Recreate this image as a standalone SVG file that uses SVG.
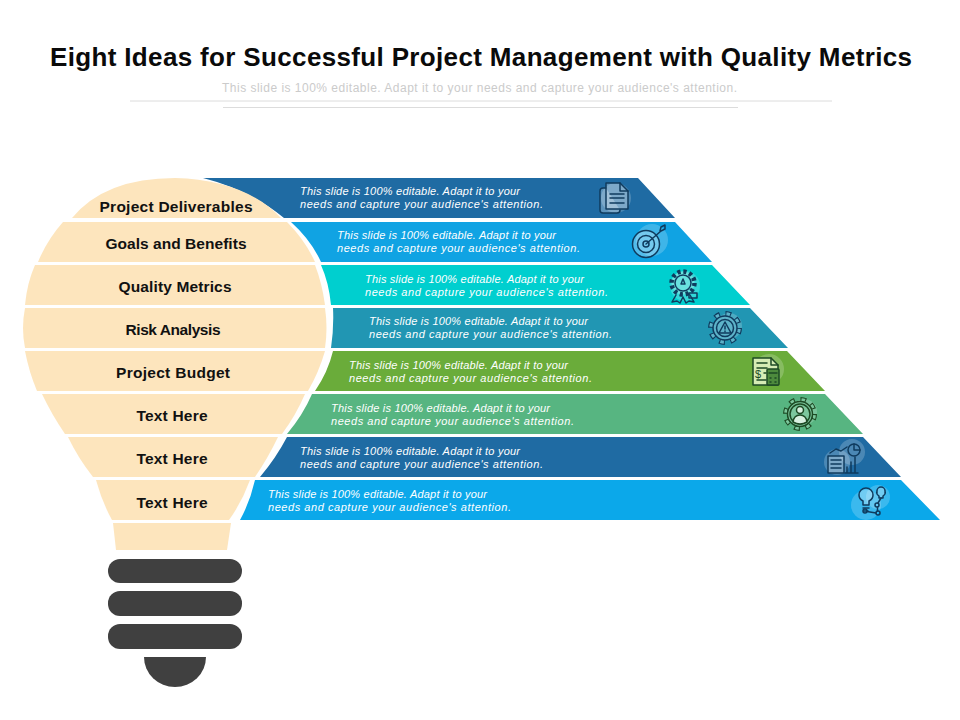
<svg xmlns="http://www.w3.org/2000/svg" width="960" height="720" viewBox="0 0 960 720">
<style>
.title{font:bold 26px "Liberation Sans",Arial,sans-serif;fill:#0a0a0a}
.sub{font:12px "Liberation Sans",Arial,sans-serif;fill:#cbcbcb}
.lb{font:bold 15.500px "Liberation Sans",Arial,sans-serif;fill:#111;text-anchor:middle}
.d{font:italic 11px "Liberation Sans",Arial,sans-serif;fill:#fff}
.bulb{fill:#fde5bd}
.base{fill:#404040}
.halo{fill:#fff;fill-opacity:.2}
.i{fill:none;stroke:#0f3b5e;stroke-width:1.500;stroke-linejoin:round;stroke-linecap:round}
.g{stroke:#1d4a24}
.f{fill:#fff;fill-opacity:.28}
.l{fill:#d5ecb4}
</style>
<rect width="960" height="720" fill="#fff"/>
<text class="title" x="50" y="66" textLength="862" lengthAdjust="spacing">Eight Ideas for Successful Project Management with Quality Metrics</text>
<text class="sub" x="222" y="92" textLength="515" lengthAdjust="spacing">This slide is 100% editable. Adapt it to your needs and capture your audience's attention.</text>
<path d="M130 101H832M223 107.500H738" stroke="#dcdcdc" stroke-width="1" fill="none"/>

<g id="node-1">
<path fill="#1f6ba3" d="M203 178H638L675 218H284Q250 190 203 178Z"/>
<path class="bulb" d="M72 218Q105 178 175 178Q245 180 281 218Z"/>
<text class="lb" x="176" y="212" textLength="153">Project Deliverables</text>
<text class="d" x="300" y="195" textLength="220">This slide is 100% editable. Adapt it to your</text>
<text class="d" x="300" y="208" textLength="243">needs and capture your audience's attention.</text>
<circle class="halo" cx="616" cy="198" r="15"/>
<path class="i f" d="M606 188H603Q600 188 600 191V210Q600 213 603 213H617Q620 213 620 210"/><path class="i f" d="M606 183H620L628 191V209H606Z"/><path class="i" d="M620 183V191H628M610 194H624M610 198H624M610 203H624"/>
</g>
<g id="node-2">
<path fill="#10a3e3" d="M291 222H675L712 262H321Q311 240 291 222Z"/>
<path class="bulb" d="M63 222H287Q305 240 315 262H38Q47 240 63 222Z"/>
<text class="lb" x="176" y="249" textLength="141">Goals and Benefits</text>
<text class="d" x="337" y="239" textLength="219">This slide is 100% editable. Adapt it to your</text>
<text class="d" x="337" y="252" textLength="243">needs and capture your audience's attention.</text>
<circle class="halo" cx="652" cy="240" r="16"/>
<circle class="i f" cx="646" cy="244" r="13.500"/><circle class="i" cx="646" cy="244" r="8.500"/><circle class="i" cx="646" cy="244" r="3"/><path class="i" d="M646 244L661 231M660 231L661 227L665 225L665 229L661 231"/>
</g>
<g id="node-3">
<path fill="#00cfcf" d="M321 265H712L750 305H331Q329 283 321 265Z"/>
<path class="bulb" d="M35 265H315Q322 283 325 305H25Q27 283 35 265Z"/>
<text class="lb" x="175" y="292" textLength="113">Quality Metrics</text>
<text class="d" x="365" y="283" textLength="219">This slide is 100% editable. Adapt it to your</text>
<text class="d" x="365" y="296" textLength="243">needs and capture your audience's attention.</text>
<circle class="halo" cx="685" cy="286" r="15"/>
<circle cx="683" cy="283" r="11.500" fill="#9fe9e6" fill-opacity=".5" stroke="#0f3b5e" stroke-width="4.500" stroke-dasharray="3.200 2.820"/>
<circle class="i" cx="683" cy="283" r="8"/><path class="i" d="M683 279L685 284L681 284ZM676 295L672 302L677 301L680 303L683 297L686 303L689 301L694 302L690 295"/><path class="i" d="M689 293H697V298H689Z"/>
</g>
<g id="node-4">
<path fill="#2196b3" d="M333 308H750L788 348H331Q334 328 333 308Z"/>
<path class="bulb" d="M25 308H325Q328 328 325 348H25Q21 328 25 308Z"/>
<text class="lb" x="173" y="335" textLength="95">Risk Analysis</text>
<text class="d" x="369" y="325" textLength="219">This slide is 100% editable. Adapt it to your</text>
<text class="d" x="369" y="338" textLength="243">needs and capture your audience's attention.</text>
<circle class="halo" cx="729" cy="326" r="13"/>
<circle cx="725" cy="328" r="14" fill="none" stroke="#0f3b5e" stroke-width="6" stroke-dasharray="5.500 5.500"/>
<circle cx="725" cy="328" r="14" fill="none" stroke="#5db3c9" stroke-width="3.500" stroke-dasharray="3.500 7.500" stroke-dashoffset="-1"/>
<circle cx="725" cy="328" r="12" fill="#5db3c9" stroke="#0f3b5e" stroke-width="1.500"/>
<circle class="i" cx="725" cy="328" r="8.500"/><path class="i" d="M725 322L731 333H719ZM725 326V329M725 331V331.500"/>
</g>
<g id="node-5">
<path fill="#6aac3a" d="M333 351H787L825 391H315Q328 372 333 351Z"/>
<path class="bulb" d="M25 351H325Q319 372 308 391H37Q29 372 25 351Z"/>
<text class="lb" x="173" y="378" textLength="114">Project Budget</text>
<text class="d" x="349" y="369" textLength="219">This slide is 100% editable. Adapt it to your</text>
<text class="d" x="349" y="382" textLength="243">needs and capture your audience's attention.</text>
<circle class="halo" cx="769" cy="369" r="15"/>
<path class="i g l" d="M753 358H771L778 365V385H753Z"/><path class="i g" d="M771 358V365H778M757 363H767M757 368H767M764 373H766M757 380H766"/><text x="755" y="378" font-family="Liberation Sans,sans-serif" font-size="11" fill="#1d4a24">$</text>
<rect class="i g" x="767" y="369" width="12" height="16" rx="1" style="fill:#4d8a3d"/><path class="i g" d="M769 373H777M770 378H771M775 378H776M770 382H771M775 382H776"/>
</g>
<g id="node-6">
<path fill="#57b581" d="M312 394H825L863 434H287Q303 415 312 394Z"/>
<path class="bulb" d="M42 394H305Q296 415 282 434H65Q52 415 42 394Z"/>
<text class="lb" x="172" y="421" textLength="71">Text Here</text>
<text class="d" x="331" y="412" textLength="219">This slide is 100% editable. Adapt it to your</text>
<text class="d" x="331" y="425" textLength="243">needs and capture your audience's attention.</text>
<circle class="halo" cx="804" cy="412" r="13"/>
<circle cx="800" cy="414" r="14.500" fill="none" stroke="#1d4a24" stroke-width="5" stroke-dasharray="5.700 5.690"/>
<circle cx="800" cy="414" r="14.500" fill="none" stroke="#7cc79d" stroke-width="2.800" stroke-dasharray="3.500 7.890" stroke-dashoffset="-1.100"/>
<circle cx="800" cy="414" r="12.500" fill="#7cc79d" stroke="#1d4a24" stroke-width="1.500"/>
<circle class="i g" cx="800" cy="414" r="10"/><circle class="i g" cx="800" cy="410" r="3.500" style="fill:#d9f0e0"/><path class="i g" d="M793 422Q794 415 800 415Q806 415 807 422Q800 426 793 422Z" style="fill:#d9f0e0"/>
</g>
<g id="node-7">
<path fill="#1f6ba3" d="M287 437H863L901 477H260Q276 458 287 437Z"/>
<path class="bulb" d="M68 437H278Q268 458 255 477H93Q78 458 68 437Z"/>
<text class="lb" x="172" y="464" textLength="71">Text Here</text>
<text class="d" x="300" y="455" textLength="220">This slide is 100% editable. Adapt it to your</text>
<text class="d" x="300" y="468" textLength="243">needs and capture your audience's attention.</text>
<circle class="halo" cx="837" cy="462" r="13"/><circle class="halo" cx="852" cy="452" r="13"/>
<path class="i f" d="M828 456H844V473H828Z"/><path class="i" d="M831 460H841M831 464H841M831 468H841M845 473H858M847 473V467M851 473V462M855 473V457M830 453L836 449L841 451L847 447"/><circle class="i" cx="854" cy="450" r="6"/><path class="i" d="M854 450V444M854 450H860"/>
</g>
<g id="node-8">
<path fill="#0ba8ea" d="M255 480H901L940 520H240Q250 502 255 480Z"/>
<path class="bulb" d="M96 480H250Q242 502 229 520H112Q102 502 96 480Z"/>
<text class="lb" x="172" y="508" textLength="71">Text Here</text>
<text class="d" x="268" y="498" textLength="219">This slide is 100% editable. Adapt it to your</text>
<text class="d" x="268" y="511" textLength="243">needs and capture your audience's attention.</text>
<circle class="halo" cx="866" cy="505" r="15"/><circle class="halo" cx="878" cy="497" r="12"/>
<path class="i f" d="M863 505V501Q859 499 859 495A7 7 0 0 1 873 495Q873 499 869 501V505Z"/><path class="i" d="M863 508H869M864 511H868"/><path class="i f" d="M879 498V496Q876 494 877 491A4 4 0 0 1 885 491Q886 494 883 496V498Z"/><circle class="i" cx="865" cy="511" r="2"/><circle class="i" cx="878" cy="513" r="2"/><circle class="i" cx="877" cy="505" r="2"/><path class="i" d="M867 511.500L876 513M877.500 511V507M878 503L881 498"/>
</g>
<g id="bulb-neck"><path class="bulb" d="M113 523H231L227 550H116Z"/></g>
<g id="bulb-base">
<rect class="base" x="108" y="559" width="134" height="24" rx="12"/>
<rect class="base" x="108" y="591" width="134" height="25" rx="12"/>
<rect class="base" x="108" y="624" width="134" height="25" rx="12"/>
<path class="base" d="M144 657H206A31 30 0 0 1 144 657Z"/>
</g>
</svg>
